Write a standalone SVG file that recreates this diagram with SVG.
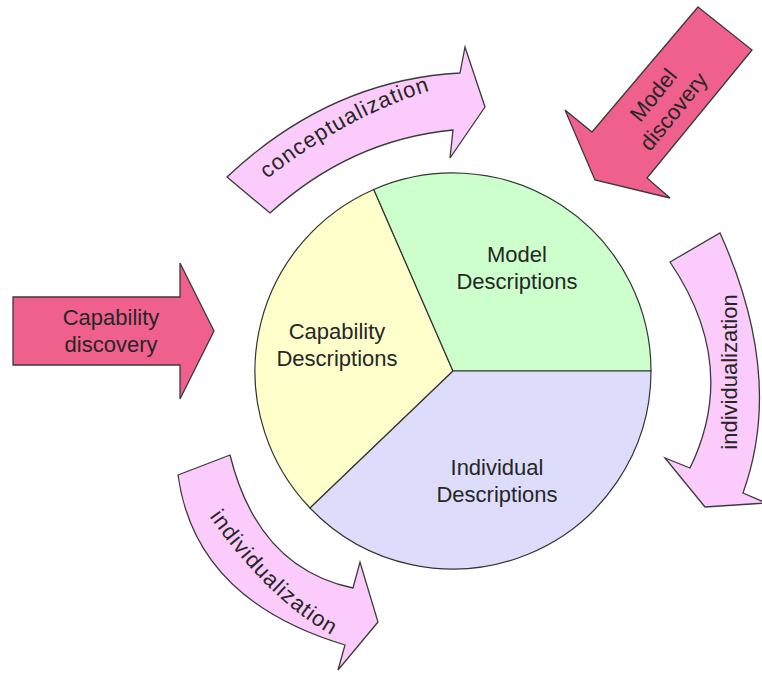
<svg xmlns="http://www.w3.org/2000/svg" width="762" height="673" viewBox="0 0 762 673">
<style>
.lbl{font-family:"Liberation Sans",Arial,sans-serif;font-size:22px;fill:#262626;text-anchor:middle}
.wedge{stroke:#333;stroke-width:1.2}
.soft{fill:#FBCBFB;stroke:#3a3a3a;stroke-width:1.3;stroke-linejoin:miter}
.hot{fill:#F0608C;stroke:#3a3a3a;stroke-width:1.3}
</style>
<defs>
<path id="p-concept" d="M266,180 Q346.5,116 432,90"/>
<path id="p-indiv-bl" d="M206,512 Q270,603 337,638"/>
</defs>
<rect width="762" height="673" fill="#FFFFFF"/>
<g id="capability-descriptions">
<path class="wedge" fill="#FFFFCC" d="M453,371 L310,508 A198,198 0 0 1 373.8,189.5 Z"/>
<text class="lbl" x="337" y="339">Capability</text>
<text class="lbl" x="337" y="366">Descriptions</text>
</g>
<g id="model-descriptions">
<path class="wedge" fill="#CCFFCC" d="M453,371 L373.8,189.5 A198,198 0 0 1 651,371 Z"/>
<text class="lbl" x="517" y="262">Model</text>
<text class="lbl" x="517" y="289">Descriptions</text>
</g>
<g id="individual-descriptions">
<path class="wedge" fill="#DDDDFB" d="M453,371 L651,371 A198,198 0 0 1 310,508 Z"/>
<text class="lbl" x="497" y="475">Individual</text>
<text class="lbl" x="497" y="502">Descriptions</text>
</g>
<g id="connectors">
<g id="capability-discovery">
<path class="hot" d="M13,297 L180,297 L180,263 L214,331 L180,399 L180,365 L13,365 Z"/>
<text class="lbl" x="111" y="325">Capability</text>
<text class="lbl" x="111" y="352">discovery</text>
</g>
<g id="model-discovery">
<path class="hot" d="M698,7 L752,50 L647,178 L670,198 L595,180 L565,110 L592,132 Z"/>
<g transform="translate(663,103) rotate(-51)">
<text class="lbl" x="0" y="-5">Model</text>
<text class="lbl" x="0" y="21">discovery</text>
</g>
</g>
<g id="conceptualization">
<path class="soft" d="M227,177 Q330,80 460,73 L465,47 L485,107 L450,158 L453,130 Q350,140 270,213 Z"/>
<text class="lbl" letter-spacing="1"><textPath href="#p-concept" startOffset="50%">conceptualization</textPath></text>
</g>
<g id="individualization-right">
<path class="soft" d="M670,262 L720,233 Q785,377 743,493 L766,503 L705,507 L665,458 L690,468 Q740,365 670,262 Z"/>
<text class="lbl" transform="translate(737,372) rotate(-90)" x="0" y="0">individualization</text>
</g>
<g id="individualization-left">
<path class="soft" d="M178,475 L230,455 Q258,568 353,588 L360,562 L378,622 L338,670 L345,645 Q195,600 178,475 Z"/>
<text class="lbl" letter-spacing="1"><textPath href="#p-indiv-bl" startOffset="50%">individualization</textPath></text>
</g>
</g>
</svg>
